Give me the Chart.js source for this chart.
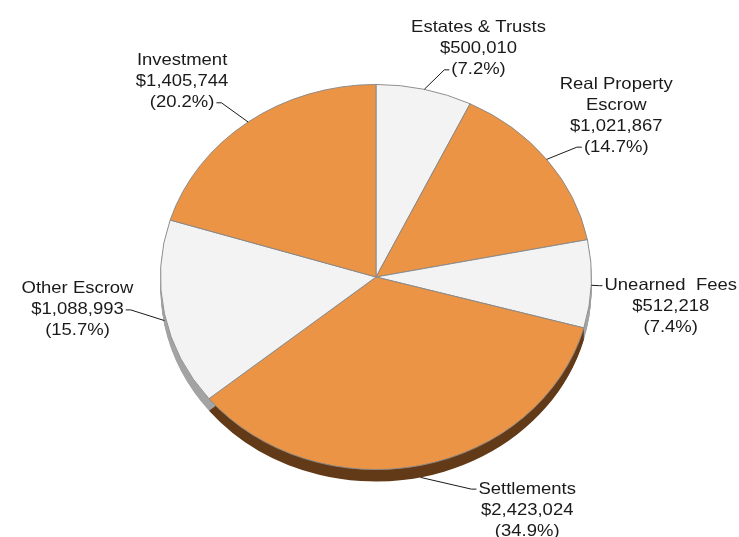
<!DOCTYPE html>
<html>
<head>
<meta charset="utf-8">
<script src="https://cdn.jsdelivr.net/npm/chart.js@4/dist/chart.umd.min.js"></script>
<style>
  html, body { margin: 0; padding: 0; background: #fff; }
  #chart { display: block; }
</style>
</head>
<body>
<canvas id="chart" width="739" height="537"></canvas>
<script>
// ── data (clockwise from 12 o'clock) ─────────────────────────
const categories = [
  ['Estates & Trusts'],
  ['Real Property', 'Escrow'],
  ['Unearned  Fees'],
  ['Settlements'],
  ['Other Escrow'],
  ['Investment'],
];
const amounts = [500010, 1021867, 512218, 2423024, 1088993, 1405744];

// ── look ─────────────────────────────────────────────────────
const topColors = ['#f3f3f3', '#eb9446', '#f3f3f3', '#eb9446', '#f3f3f3', '#eb9446'];
const sideColors = ['#a3a3a3', '#633a17', '#a3a3a3', '#633a17', '#a3a3a3', '#633a17'];
const SQUASH = 193 / 216;   // vertical squash of the pie (tilt)
const DEPTH = 12;           // thickness of the pie side, px
const FONT = '16.5px "Liberation Sans", Arial, sans-serif';
const TEXT_STRETCH = 1.12;
const LINE_H = 21;

const total = amounts.reduce((a, b) => a + b, 0);

// tilt the pie and draw its side before the slices
const tiltPlugin = {
  id: 'tilt',
  beforeDatasetsDraw(chart) {
    const ctx = chart.ctx;
    const arcs = chart.getDatasetMeta(0).data;
    const cx = arcs[0].x, cy = arcs[0].y;
    ctx.save();
    ctx.translate(cx, cy);
    ctx.scale(1, SQUASH);
    ctx.translate(-cx, -cy);
    arcs.forEach((arc, i) => {
      ctx.fillStyle = sideColors[i];
      for (let d = 1; d <= DEPTH; d++) {
        const off = d / SQUASH;
        ctx.beginPath();
        ctx.moveTo(arc.x, arc.y + off);
        ctx.arc(arc.x, arc.y + off, arc.outerRadius, arc.startAngle, arc.endAngle);
        ctx.closePath();
        ctx.fill();
      }
    });
  },
  afterDatasetsDraw(chart) {
    chart.ctx.restore();
  },
};

// leader lines + stacked labels
const labelPlugin = {
  id: 'pieLabels',
  afterDraw(chart) {
    const ctx = chart.ctx;
    const W = chart.width;
    const arcs = chart.getDatasetMeta(0).data;
    ctx.save();
    ctx.font = FONT;
    ctx.fillStyle = '#1a1a1a';
    ctx.strokeStyle = '#1a1a1a';
    ctx.lineWidth = 1;
    ctx.textBaseline = 'middle';
    ctx.textAlign = 'center';
    arcs.forEach((arc, i) => {
      const mid = (arc.startAngle + arc.endAngle) / 2;
      const c = Math.cos(mid), s = Math.sin(mid);
      const sgn = c >= 0 ? 1 : -1;
      const r = arc.outerRadius;
      const ax = arc.x + r * c;
      const ay = arc.y + r * SQUASH * s + DEPTH * Math.min(1, Math.max(0, s * 3));
      let ex = ax + c * 18 + sgn * (16 + 34 * Math.pow(Math.max(0, s), 4));
      const ey = ay + s * (s < 0 ? 20 : 12) - (c < 0 ? 16 * (1 - Math.abs(s)) : 0);

      const pct = (amounts[i] / total * 100).toFixed(1);
      const lines = [...categories[i], '$' + amounts[i].toLocaleString('en-US'), '(' + pct + '%)'];
      const up = -s;
      let idx;
      if (up > 0.3) idx = lines.length - 1;
      else if (up < -0.3) idx = 0;
      else idx = sgn > 0 ? 0 : 1;

      const widths = lines.map(t => ctx.measureText(t).width * TEXT_STRETCH);
      const maxW = Math.max(...widths);
      let centerX = sgn > 0 ? ex + 7 + widths[idx] / 2 : ex - 7 - widths[idx] / 2;
      if (centerX + maxW / 2 > W - 2) centerX = W - 2 - maxW / 2;
      if (centerX - maxW / 2 < 2) centerX = 2 + maxW / 2;

      // keep the leader clear of the text after clamping
      const textEdge = sgn > 0 ? centerX - widths[idx] / 2 : centerX + widths[idx] / 2;
      let hx = textEdge - sgn * 2;
      if (sgn > 0 && ex > hx - 3) ex = hx - 3;
      if (sgn < 0 && ex < hx + 3) ex = hx + 3;

      ctx.beginPath();
      ctx.moveTo(ax, ay);
      ctx.lineTo(ex, ey);
      ctx.lineTo(hx, ey);
      ctx.stroke();

      lines.forEach((t, k) => {
        ctx.save();
        ctx.translate(centerX, ey + (k - idx) * LINE_H);
        ctx.scale(TEXT_STRETCH, 1);
        ctx.fillText(t, 0, 0);
        ctx.restore();
      });
    });
    ctx.restore();
  },
};

new Chart(document.getElementById('chart'), {
  type: 'pie',
  data: {
    labels: categories.map(l => l.join(' ')),
    datasets: [{
      data: amounts,
      backgroundColor: topColors,
      borderColor: '#8a8a8a',
      borderWidth: 1,
      clip: false,
    }],
  },
  options: {
    responsive: false,
    animation: false,
    devicePixelRatio: 1,
    layout: {
      padding: { top: 61, bottom: 44, left: 160, right: 147 },
    },
    plugins: {
      legend: { display: false },
      tooltip: { enabled: false },
    },
  },
  plugins: [tiltPlugin, labelPlugin],
});
</script>
</body>
</html>
